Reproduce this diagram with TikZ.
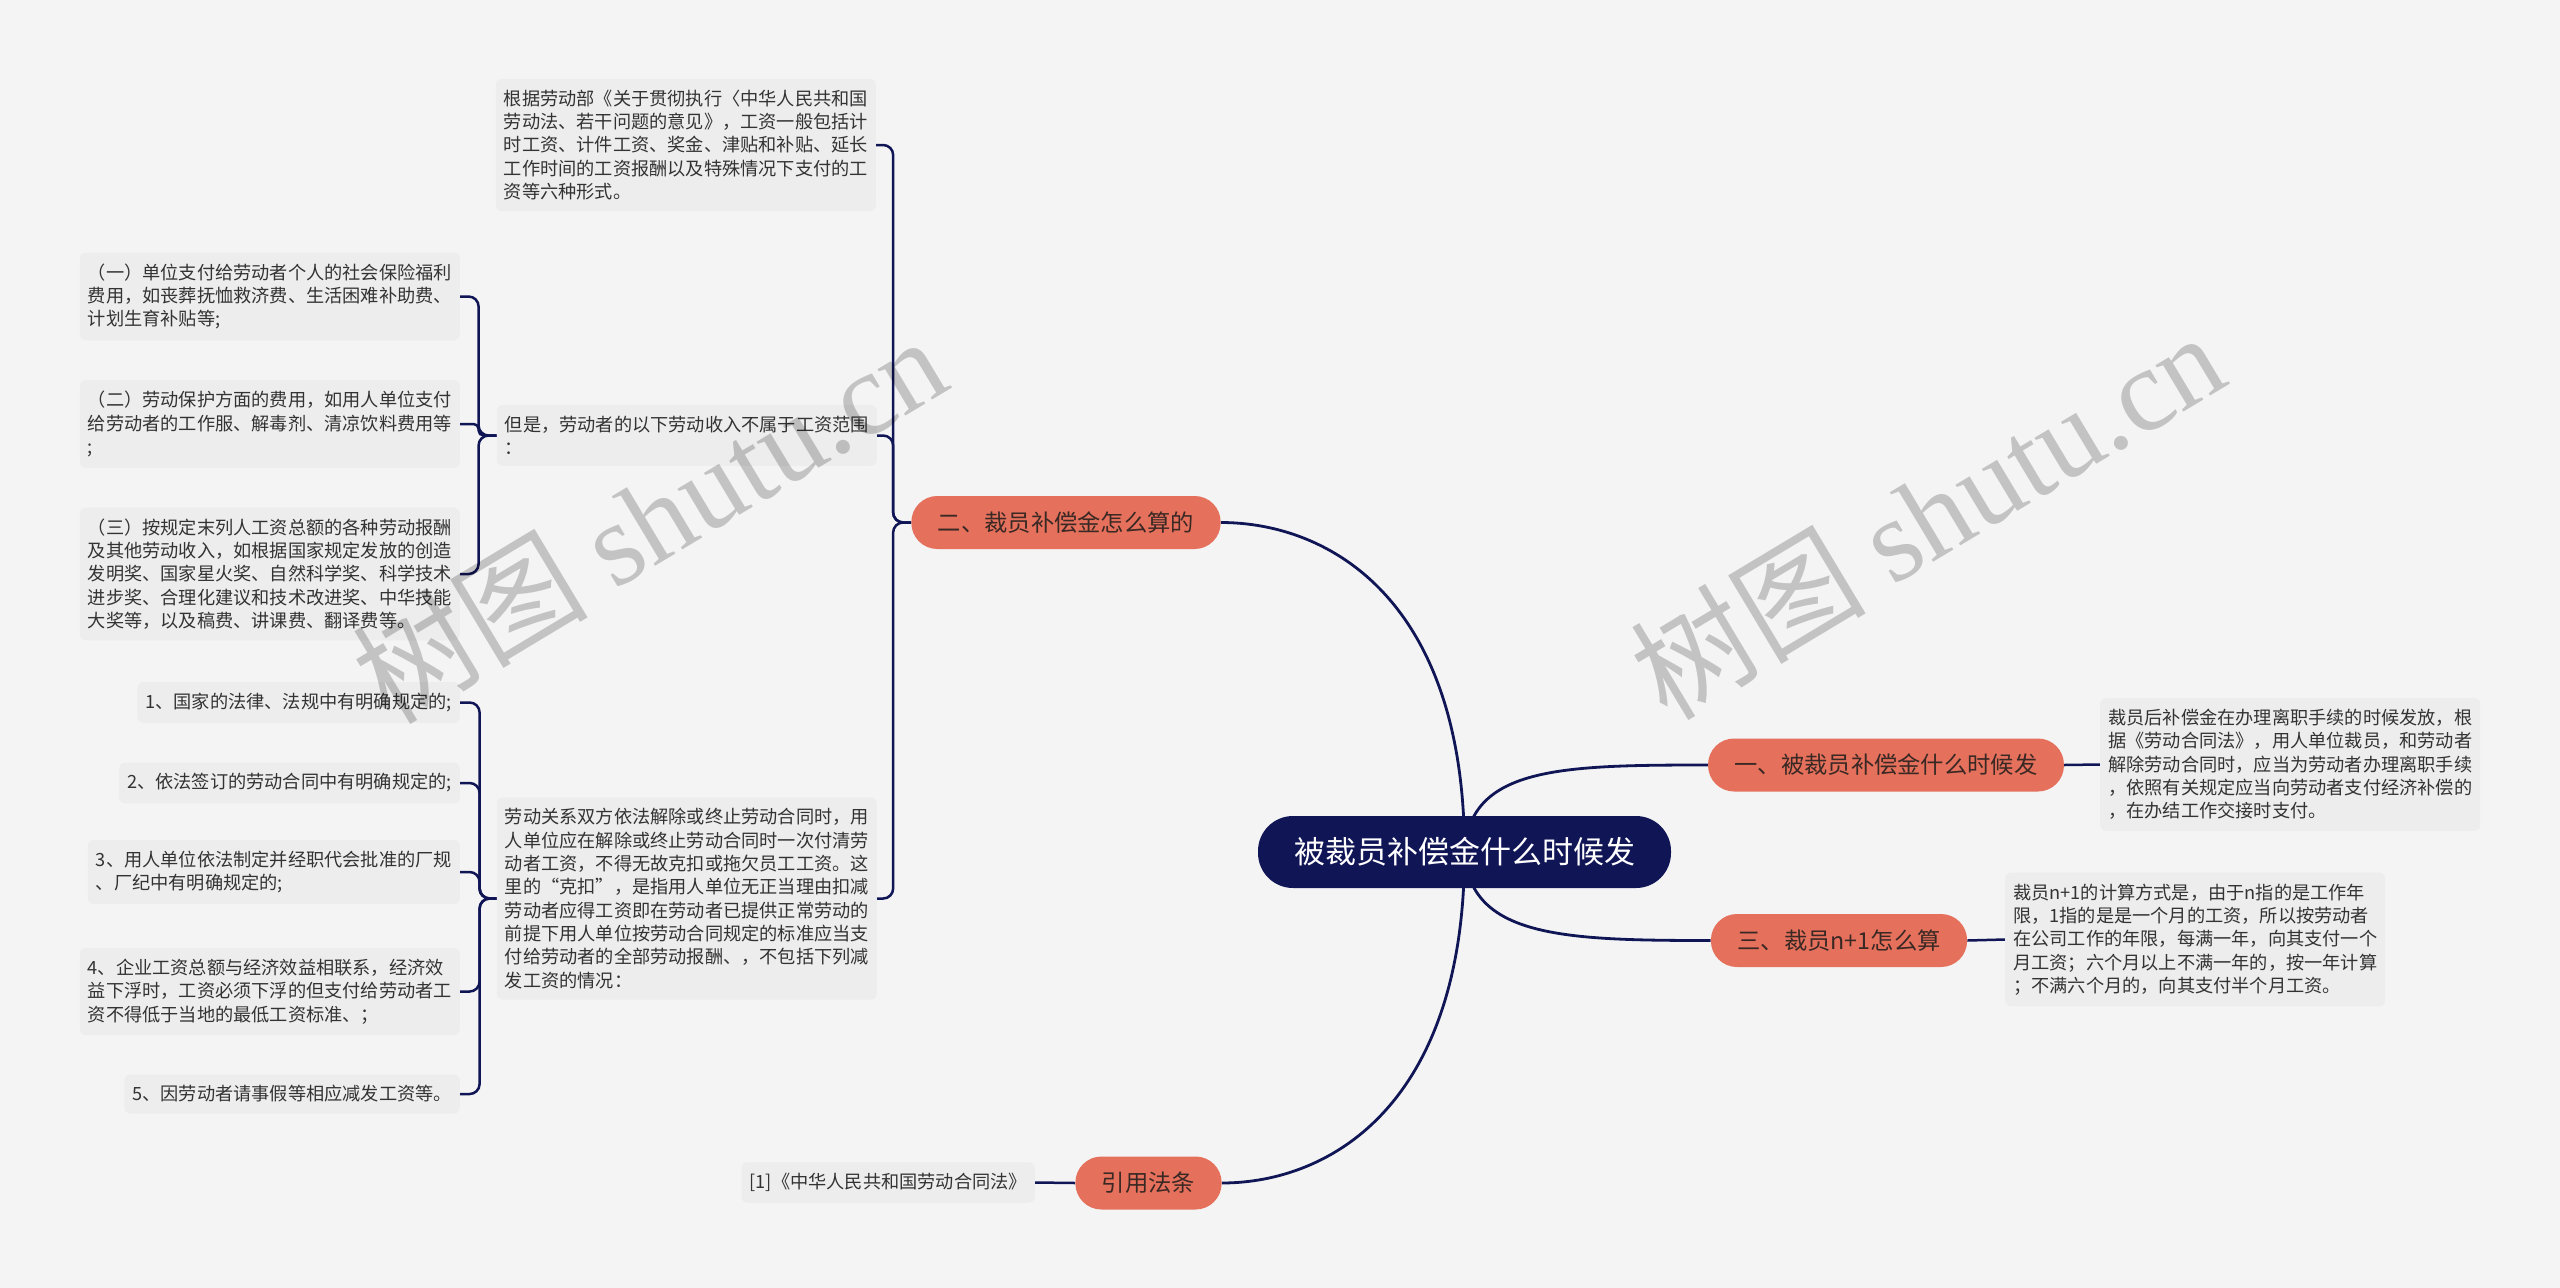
\documentclass[tikz,border=0pt]{standalone}
\usepackage{fontspec}
\setmainfont{Noto Sans CJK SC}
\newfontfamily\wmserif{Liberation Serif}
\pgfdeclarelayer{back}
\pgfdeclarelayer{bg}
\pgfdeclarelayer{fg}
\pgfsetlayers{back,bg,main,fg}
\definecolor{bgcol}{RGB}{244,244,244}
\definecolor{leaffill}{RGB}{237,237,237}
\definecolor{navy}{RGB}{16,21,86}
\definecolor{salmon}{RGB}{229,113,92}
\definecolor{btext}{RGB}{58,40,36}
\definecolor{ltext}{RGB}{51,51,51}
\tikzset{
  leaf/.style={fill=leaffill, rounded corners=6pt, inner xsep=8pt, inner ysep=11pt,
    font=\fontsize{18.2}{23.3}\selectfont, text=ltext, align=left},
  branch/.style={fill=salmon, text=btext, rounded corners=26pt, minimum height=53pt,
    inner xsep=26.5pt, inner ysep=0pt, font=\fontsize{23.3}{28}\selectfont},
  rootnode/.style={fill=navy, text=white, rounded corners=35pt, minimum height=72pt,
    inner xsep=36pt, inner ysep=0pt, font=\fontsize{31}{36}\selectfont},
  link/.style={draw=navy, line width=2.8pt},
  brk/.style={draw=navy, line width=2.5pt, rounded corners=10pt},
  wm/.style={text=black, opacity=0.2, rotate=31, font=\fontsize{118}{130}\selectfont}
}
\begin{document}
\begin{tikzpicture}[x=1pt,y=-1pt]
\begin{pgfonlayer}{back}
\fill[bgcol] (0,0) rectangle (2560,1288);
\end{pgfonlayer}
\useasboundingbox (0,0) rectangle (2560,1288);

% root and branches
\node[rootnode] (C) at (1464.5,852) {被裁员补偿金什么时候发};
\node[branch] (B1) at (1886,765) {一、被裁员补偿金什么时候发};
\node[branch] (B3) at (1839,940.5) {三、裁员n+1怎么算};
\node[branch] (B2) at (1066,522.5) {二、裁员补偿金怎么算的};
\node[branch] (B4) at (1148.5,1183) {引用法条};

% right leaves
\node[leaf, anchor=west] (R1) at (2100,764.5) {裁员后补偿金在办理离职手续的时候发放，根\\据《劳动合同法》，用人单位裁员，和劳动者\\解除劳动合同时，应当为劳动者办理离职手续\\，依照有关规定应当向劳动者支付经济补偿的\\，在办结工作交接时支付。};
\node[leaf, anchor=west] (R2) at (2005,939.5) {裁员n+1的计算方式是，由于n指的是工作年\\限，1指的是是一个月的工资，所以按劳动者\\在公司工作的年限，每满一年，向其支付一个\\月工资；六个月以上不满一年的，按一年计算\\；不满六个月的，向其支付半个月工资。};
\node[leaf, anchor=east] (Ref) at (1035,1182.5) {[1]《中华人民共和国劳动合同法》};

% second-level leaves
\node[leaf, anchor=east] (A1) at (876,145) {根据劳动部《关于贯彻执行〈中华人民共和国\\劳动法、若干问题的意见》，工资一般包括计\\时工资、计件工资、奖金、津贴和补贴、延长\\工作时间的工资报酬以及特殊情况下支付的工\\资等六种形式。};
\node[leaf, anchor=east] (A2) at (877,435.5) {但是，劳动者的以下劳动收入不属于工资范围\\：};
\node[leaf, anchor=east] (A3) at (877,898.5) {劳动关系双方依法解除或终止劳动合同时，用\\人单位应在解除或终止劳动合同时一次付清劳\\动者工资，不得无故克扣或拖欠员工工资。这\\里的“克扣”，是指用人单位无正当理由扣减\\劳动者应得工资即在劳动者已提供正常劳动的\\前提下用人单位按劳动合同规定的标准应当支\\付给劳动者的全部劳动报酬、，不包括下列减\\发工资的情况：};

% third-level leaves
\node[leaf, anchor=east] (L1) at (460,296.5) {（一）单位支付给劳动者个人的社会保险福利\\费用，如丧葬抚恤救济费、生活困难补助费、\\计划生育补贴等;};
\node[leaf, anchor=east] (L2) at (460,424) {（二）劳动保护方面的费用，如用人单位支付\\给劳动者的工作服、解毒剂、清凉饮料费用等\\;};
\node[leaf, anchor=east] (L3) at (460,574) {（三）按规定末列人工资总额的各种劳动报酬\\及其他劳动收入，如根据国家规定发放的创造\\发明奖、国家星火奖、自然科学奖、科学技术\\进步奖、合理化建议和技术改进奖、中华技能\\大奖等，以及稿费、讲课费、翻译费等。};
\node[leaf, anchor=east] (M1) at (460,702.5) {1、国家的法律、法规中有明确规定的;};
\node[leaf, anchor=east] (M2) at (460,783) {2、依法签订的劳动合同中有明确规定的;};
\node[leaf, anchor=east] (M3) at (460,872) {3、用人单位依法制定并经职代会批准的厂规\\、厂纪中有明确规定的;};
\node[leaf, anchor=east] (M4) at (460,991.5) {4、企业工资总额与经济效益相联系，经济效\\益下浮时，工资必须下浮的但支付给劳动者工\\资不得低于当地的最低工资标准、；};
\node[leaf, anchor=east] (M5) at (460,1094) {5、因劳动者请事假等相应减发工资等。};

\coordinate (b2j) at ([xshift=-18pt]B2.west);
\coordinate (a2j) at ([xshift=-18pt]A2.west);
\coordinate (a3j) at ([xshift=-17pt]A3.west);

\begin{pgfonlayer}{bg}
\draw[link] (C.center) .. controls +(0,-252) and +(109,0) .. (B2.east);
\draw[link] (C.center) .. controls +(0,252) and +(109,0) .. (B4.east);
\draw[link] (C.center) .. controls +(5,-85) and +(-148,0) .. (B1.west);
\draw[link] (C.center) .. controls +(5,85) and +(-149,0) .. (B3.west);
\draw[brk] (B1.east) -- (R1.west);
\draw[brk] (B3.east) -- (R2.west);
\draw[brk] (B4.west) -- (Ref.east);
\foreach \n in {A1,A2,A3} \draw[brk] (B2.west) -- (b2j) |- (\n.east);
\foreach \n in {L1,L3} \draw[brk] (A2.west) -- (a2j) |- (\n.east);
\draw[brk, rounded corners=5pt] (A2.west) -- (a2j) |- (L2.east);
\foreach \n in {M1,M2,M3,M4,M5} \draw[brk] (A3.west) -- (a3j) |- (\n.east);
\end{pgfonlayer}

\begin{pgfonlayer}{fg}
\node[wm] (W1) at (649,518) {树图 {\wmserif shutu.cn}};
\node[wm] (W2) at (1927,514) {树图 {\wmserif shutu.cn}};
\end{pgfonlayer}
\end{tikzpicture}
\end{document}
